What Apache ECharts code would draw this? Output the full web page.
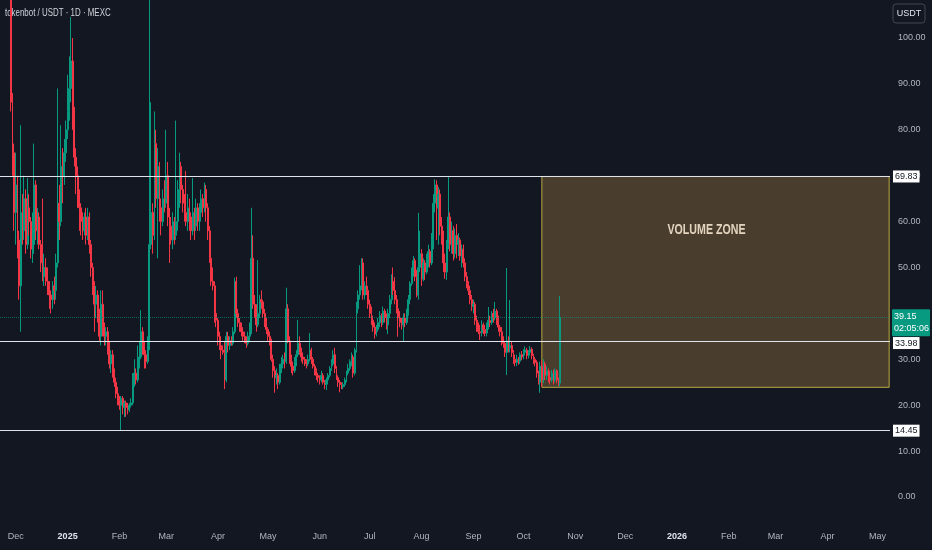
<!DOCTYPE html>
<html><head><meta charset="utf-8">
<script src="https://cdn.jsdelivr.net/npm/echarts@6/dist/echarts.min.js"></script>
<style>html,body{margin:0;padding:0;background:#131722}#c{width:932px;height:550px}</style>
</head><body><div id="c"></div>
<script>
// ---- axis scaffolding ----
const firstDay = '2024-11-22';
const dayCount = 533;
const firstCandle = 6; // index of first candle (2024-11-28)
const monthNames = ['Jan','Feb','Mar','Apr','May','Jun','Jul','Aug','Sep','Oct','Nov','Dec'];
const yTickStep = 10;

// ---- daily OHLC (tokenbot / USDT, 1D) ----
const opens = [
112,86,75,62,68,56,46,62,58,65,
55,63,60,54,55,68,58,61,55,51,
48,50,47,46,44,43,46,45,51,64,
60,72,70,75,80,84,89,95,83,74,
70,66,63,60,58,61,57,61,55,50,
46,42,44,40,35,42,37,35,36,33,
29,31,27,25,22.5,21,20,21.5,19.5,20.5,
19.5,19,20,20.5,26,27,25.5,29,30.5,36,
33,31,29.5,33,55,62,57,77,65,72,
63,60,65,64,70,61,59,56,60,57,
60,67,72,67,64,62,60,63,61,58,
62,59,63,60,62,65,63,67,63,58,
52,47,46,40,38.5,35,33,32,31.5,25.5,
35,33,34,33.5,36,47,40,38,37,36,
35,34,33.5,35,36,52,42,41,37.5,40,
43,42.5,40,38,36.5,35,34,30,27.5,26,
26.5,25,28,29,30,29.5,41,34,30,28.5,
27.5,29.5,31,33.5,31.5,30.5,30,29.5,29,30,
32,30,28.5,27.5,26.5,26,25.5,26.5,25,24.5,
25.5,26.5,28,29,31,28,26,25,24.5,24,
24.5,25.5,27,28,29.5,30.5,27,32,41,44,
46,51,44,46,45,42,40,38.5,37,35.5,
36.5,38,39.5,38,40.5,39,37.5,40,43,47,
45,43,41,39,38,37.5,39,38,40,43,
46.5,49,51.5,48,44,50,53,47.5,51,49,
52,53.5,51,56,64,68,63,66,59,57,
51,49,55,61,55,58,53,57,55,56,
52.5,54,51,48,46.5,45,43,41.5,42,38.5,
37,36,35.8,37.5,36.5,35.7,37,38.5,38,40,
39,40.5,38.5,37,36,34,33.5,31.5,34,32.5,
33,31.5,30,29.3,30,29.6,31,30.5,31.5,32,
30.8,31.5,32.2,30.8,30,29.3,27,25,28.5,25.5,
29,26.5,27.5,26,25.5,27,25.5,27.5,25.5,24.8
];
const closes = [
86,75,62,68,56,46,62,58,65,55,
63,60,54,55,68,58,61,55,51,48,
50,47,46,44,43,46,45,51,64,60,
72,70,75,80,84,89,95,83,74,70,
66,63,60,58,61,57,61,55,50,46,
42,44,40,35,42,37,35,36,33,29,
31,27,25,22.5,21,20,21.5,19.5,20.5,19.5,
19,20,20.5,26,27,25.5,29,30.5,36,33,
31,29.5,33,55,62,57,77,65,72,63,
60,65,64,70,61,59,56,60,57,60,
67,72,67,64,62,60,63,61,58,62,
59,63,60,62,65,63,67,63,58,52,
47,46,40,38.5,35,33,32,31.5,25.5,35,
33,34,33.5,36,47,40,38,37,36,35,
34,33.5,35,36,52,42,41,37.5,40,43,
42.5,40,38,36.5,35,34,30,27.5,26,26.5,
25,28,29,30,29.5,41,34,30,28.5,27.5,
29.5,31,33.5,31.5,30.5,30,29.5,29,30,32,
30,28.5,27.5,26.5,26,25.5,26.5,25,24.5,25.5,
26.5,28,29,31,28,26,25,24.5,24,24.5,
25.5,27,28,29.5,30.5,27,32,41,44,46,
51,44,46,45,42,40,38.5,37,35.5,36.5,
38,39.5,38,40.5,39,37.5,40,43,47,45,
43,41,39,38,37.5,39,38,40,43,46.5,
49,51.5,48,44,50,53,47.5,51,49,52,
53.5,51,56,64,68,63,66,59,57,51,
49,55,61,55,58,53,57,55,56,52.5,
54,51,48,46.5,45,43,41.5,42,38.5,37,
36,35.8,37.5,36.5,35.7,37,38.5,38,40,39,
40.5,38.5,37,36,34,33.5,31.5,34,32.5,33,
31.5,30,29.3,30,29.6,31,30.5,31.5,32,30.8,
31.5,32.2,30.8,30,29.3,27,25,28.5,25.5,29,
26.5,27.5,26,25.5,27,25.5,27.5,25.5,24.8,39.15
];
const lows = [
84,70,58,55,52,43,36,55,56,53,
54,57,52,51,53,56,55,54,49,47,
46,46,44,41,40,41,42,43,50,56,
59,64,68,73,78,82,86,80,72,66,
63,58,57,56,57,55,56,53,48,44,
36,39,38,34,33,35,33,33,31,28,
27,26,24,21.5,20,19,14.45,18,17.4,17.5,
18,18.5,19.5,20,24,24.5,25,28,30,31,
28,28,29,32,54,53,56,63,52,60,
57,59,62,63,59,51,55,54,55,56,
58,63,64,62,60,59,58,58,56,57,
56,58,58,58,60,61,62,60,56,51,
46,45,38,37,33,32,30,31,23.5,25,
31.5,32,33,33,35.5,39,37,36,35,34,
33.5,32.5,33,34,35.5,41,39,36,37,39,
41,39,37,35.5,34,33,29.5,26,22.7,24.5,
23.5,24.5,27,28,28,29,33.5,29,27,26.5,
27,28.5,30.5,31,29.5,29,28.5,28,28.5,29.5,
29,28,26.5,25.5,25,24.5,25,24.5,23.5,23.3,
24.5,26,27.5,28.5,27,25.5,24,22.8,23.5,23.5,
24,25,26.5,27.5,28.5,26,26.5,31.5,40,43,
45,43,43,44,41,39,37.5,36,34.5,35,
36,37,37,37.5,38,36.5,35.5,39,42,44,
42,40,34.9,37,36.5,33.8,37,37.5,39.5,42,
46,48,47,43.5,43,49,46,47,47.3,48.5,
50,50,50.5,54,62,56,55,57,55,49,
47.5,47.3,54,53.5,53,51.5,52,52,52.5,51.5,
50,50,47,45.5,44,42,40.5,40,37.5,36,
35.5,34.2,35,35.5,35,35,36.5,37,37.5,38,
38.5,37.5,36,35,33,32.5,30.5,26.6,31.5,31.5,
30.5,29,28.5,28.5,28.8,29,29.8,30,30.8,30,
30.2,30.8,30,29,28.5,26,24.5,22.7,24,24.8,
25.5,25.5,25,24.5,25,24.5,25,24.8,24.2,24
];
const highs = [
118,88,77,75,70,58,81,66,70,67,
69.5,66,61,62,77,69,63,62,56,65,
53,52,50,47,45,47,48,53,89,68,
81,76,78,82,92,96,104.6,100,85,76,
72,67,64,62,62,63,63,62,56,51,
47,46,45,41,45,45,38,37,37,34,
32,32,28,26,24,22,22,22,21,21,
20.5,20.5,21.5,27,30,28,33,34,40.7,37,
34,32,35,112,86,64,84,80,76,73,
65,67,69,80,73,63,61,62,61,82,
69,75,73,68,66,71,66,65,62,69.5,
63,65,64,64,67,66,68.5,68,64,59,
53,50,47,41,39,36,34,33,34,36,
36,35,35,37,47.8,48,41,39,38,37,
36,35,36,38,63,57,44,42,51.6,44,
45,43,41,39,37,36,34.5,31,28.5,28,
27,29,30.5,31,31.5,45.6,42,35,31,29.5,
30.5,32,38.6,35,32.5,31.5,30.5,30,31,35.7,
32.5,30.5,29,28,27,26.5,27.5,27,25.5,26,
27,28.5,30,32,32.5,28.5,26.5,25.5,25,25,
26,27.5,29,30,31.5,31,32.5,42.5,45,50.5,
52,52,47,48,46,43,41.5,39.5,38,37.5,
39,40.5,40,41.5,41,40,41,44,48.5,50,
47.9,44,42.5,40.5,39,40,40,41,44,47,
50,52.5,52,49.5,61.9,58,54,52,51.6,53,
55,54,57.5,66,69.2,69,67.5,67,61,58,
53,56,69.7,62,60,59,58.5,59.5,57.5,56.5,
55,55,52,49,47,46,44,43,42.5,39.5,
38,37.5,38.5,38,37.5,38,41.4,39.5,40.5,41,
42.5,41,39.5,37.5,37,35,34,49.9,35,42.9,
34,32,31,31,30.5,31.5,31.8,32.2,32.8,32.5,
32,32.9,32.6,31.2,30.5,29.8,27.5,29.5,29.8,30,
29.5,28.5,28,27.5,27.7,27.7,28,27.8,26,43.8
];

// ---- annotations ----
const levels = [69.83, 33.98, 14.45];
const lastPrice = 39.15;
const countdown = '02:05:06';
const zoneTop = 69.83;
const zoneBottom = 23.9;
const zoneStartIndex = 324;
const zoneLabel = 'VOLUME ZONE';
const titleText = 'tokenbot / USDT \u00b7 1D \u00b7 MEXC';
const currency = 'USDT';

// ---- build ----
const FONT = '"Liberation Sans","Noto Sans",sans-serif';
const categories = [];
{
  const d0 = new Date(firstDay + 'T00:00:00Z');
  for (let i = 0; i < dayCount; i++) {
    const d = new Date(d0.getTime() + i * 86400000);
    categories.push(d.toISOString().slice(0, 10));
  }
}
const candleData = categories.map((c, i) => {
  const k = i - firstCandle;
  if (k < 0 || k >= closes.length) return '-';
  return [opens[k], closes[k], lows[k], highs[k]];
});

const UP = '#089981', DOWN = '#f23645';
const chart = echarts.init(document.getElementById('c'), null, {renderer: 'canvas'});

const levelLines = levels.map(v => ({
  yAxis: v,
  lineStyle: {color: '#e0e3eb', width: 1, type: 'solid'},
  label: {
    show: true, position: 'end', distance: 3,
    offset: [0, v === 33.98 ? 2 : 0],
    formatter: v.toFixed(2),
    backgroundColor: '#ffffff', color: '#131722',
    padding: [2, 2, 1, 2], fontSize: 9, fontFamily: FONT
  }
}));
const priceLine = {
  yAxis: lastPrice,
  lineStyle: {color: UP, width: 1, type: 'dotted', opacity: 0.6},
  label: {show: false}
};

chart.setOption({
  backgroundColor: '#131722',
  animation: false,
  grid: {left: 0, right: 42, top: 0, bottom: 53, containLabel: false},
  xAxis: {
    type: 'category', data: categories, boundaryGap: true,
    axisLine: {show: false}, axisTick: {show: false}, splitLine: {show: false},
    axisLabel: {
      interval: (idx, val) => val.slice(8) === '01',
      margin: 35, color: '#b2b5be', fontSize: 9, fontFamily: FONT,
      formatter: val => {
        const m = +val.slice(5, 7);
        return m === 1 ? '{y|' + val.slice(0, 4) + '}' : monthNames[m - 1];
      },
      rich: {y: {color: '#e0e3eb', fontSize: 9, fontWeight: 'bold', fontFamily: FONT}}
    }
  },
  yAxis: {
    type: 'value', position: 'right', min: 0, max: 108.28, interval: yTickStep,
    axisLine: {show: false}, axisTick: {show: false}, splitLine: {show: false},
    axisLabel: {
      color: '#b2b5be', fontSize: 9, fontFamily: FONT, margin: 8, showMaxLabel: false,
      formatter: v => v.toFixed(2)
    }
  },
  series: [{
    type: 'candlestick',
    data: candleData,
    barWidth: 1.4,
    clip: true,
    itemStyle: {color: UP, color0: DOWN, borderColor: UP, borderColor0: DOWN, borderWidth: 1},
    markArea: {
      silent: true,
      itemStyle: {color: 'rgba(176,131,70,0.35)', borderColor: '#b8a93f', borderWidth: 1},
      label: {show: false},
      data: [[
        {name: zoneLabel, xAxis: categories[zoneStartIndex], yAxis: zoneTop},
        {xAxis: categories[dayCount - 1], yAxis: zoneBottom}
      ]]
    },
    markLine: {
      silent: true, symbol: ['none', 'none'], animation: false,
      data: levelLines.concat([priceLine])
    }
  }]
});

// title, currency box, zone caption and last-price tag (placed from the chart's own scales)
const zTL = chart.convertToPixel({seriesIndex: 0}, [categories[zoneStartIndex], zoneTop]);
const zBR = chart.convertToPixel({seriesIndex: 0}, [categories[dayCount - 1], zoneBottom]);
const pY = chart.convertToPixel({yAxisIndex: 0}, lastPrice);
const gridRight = chart.getWidth() - 42;
chart.setOption({
  graphic: [{
    id: 'title', type: 'text', x: 5, y: 13, scaleX: 0.72,
    style: {text: titleText, fill: '#d1d4dc', font: '11px ' + FONT, verticalAlign: 'middle'}
  }, {
    id: 'ccyBox', type: 'rect', x: 893, y: 4,
    shape: {x: 0, y: 0, width: 32, height: 19, r: 3},
    style: {fill: '#131722', stroke: '#434651', lineWidth: 1}
  }, {
    id: 'ccyText', type: 'text', x: 909, y: 14,
    style: {text: currency, fill: '#e0e3eb', font: '9px ' + FONT, align: 'center', verticalAlign: 'middle'}
  }, {
    id: 'zoneText', type: 'text',
    x: (zTL[0] + zBR[0]) / 2 - 9, y: zTL[1] + 54, scaleX: 0.76,
    style: {text: zoneLabel, fill: '#ffffff', font: 'bold 14px ' + FONT, align: 'center', verticalAlign: 'middle'}
  }, {
    id: 'priceBox', type: 'rect', x: gridRight + 2, y: pY - 8, z: 200,
    shape: {x: 0, y: 0, width: 38, height: 27, r: 1}, style: {fill: UP}
  }, {
    id: 'priceText', type: 'text', x: gridRight + 4, y: pY - 0.5, z: 201,
    style: {text: lastPrice.toFixed(2), fill: '#ffffff', font: '9px ' + FONT, verticalAlign: 'middle'}
  }, {
    id: 'clockText', type: 'text', x: gridRight + 4, y: pY + 11.5, z: 201,
    style: {text: countdown, fill: '#ffffff', font: '9px ' + FONT, verticalAlign: 'middle'}
  }]
});
</script></body></html>
